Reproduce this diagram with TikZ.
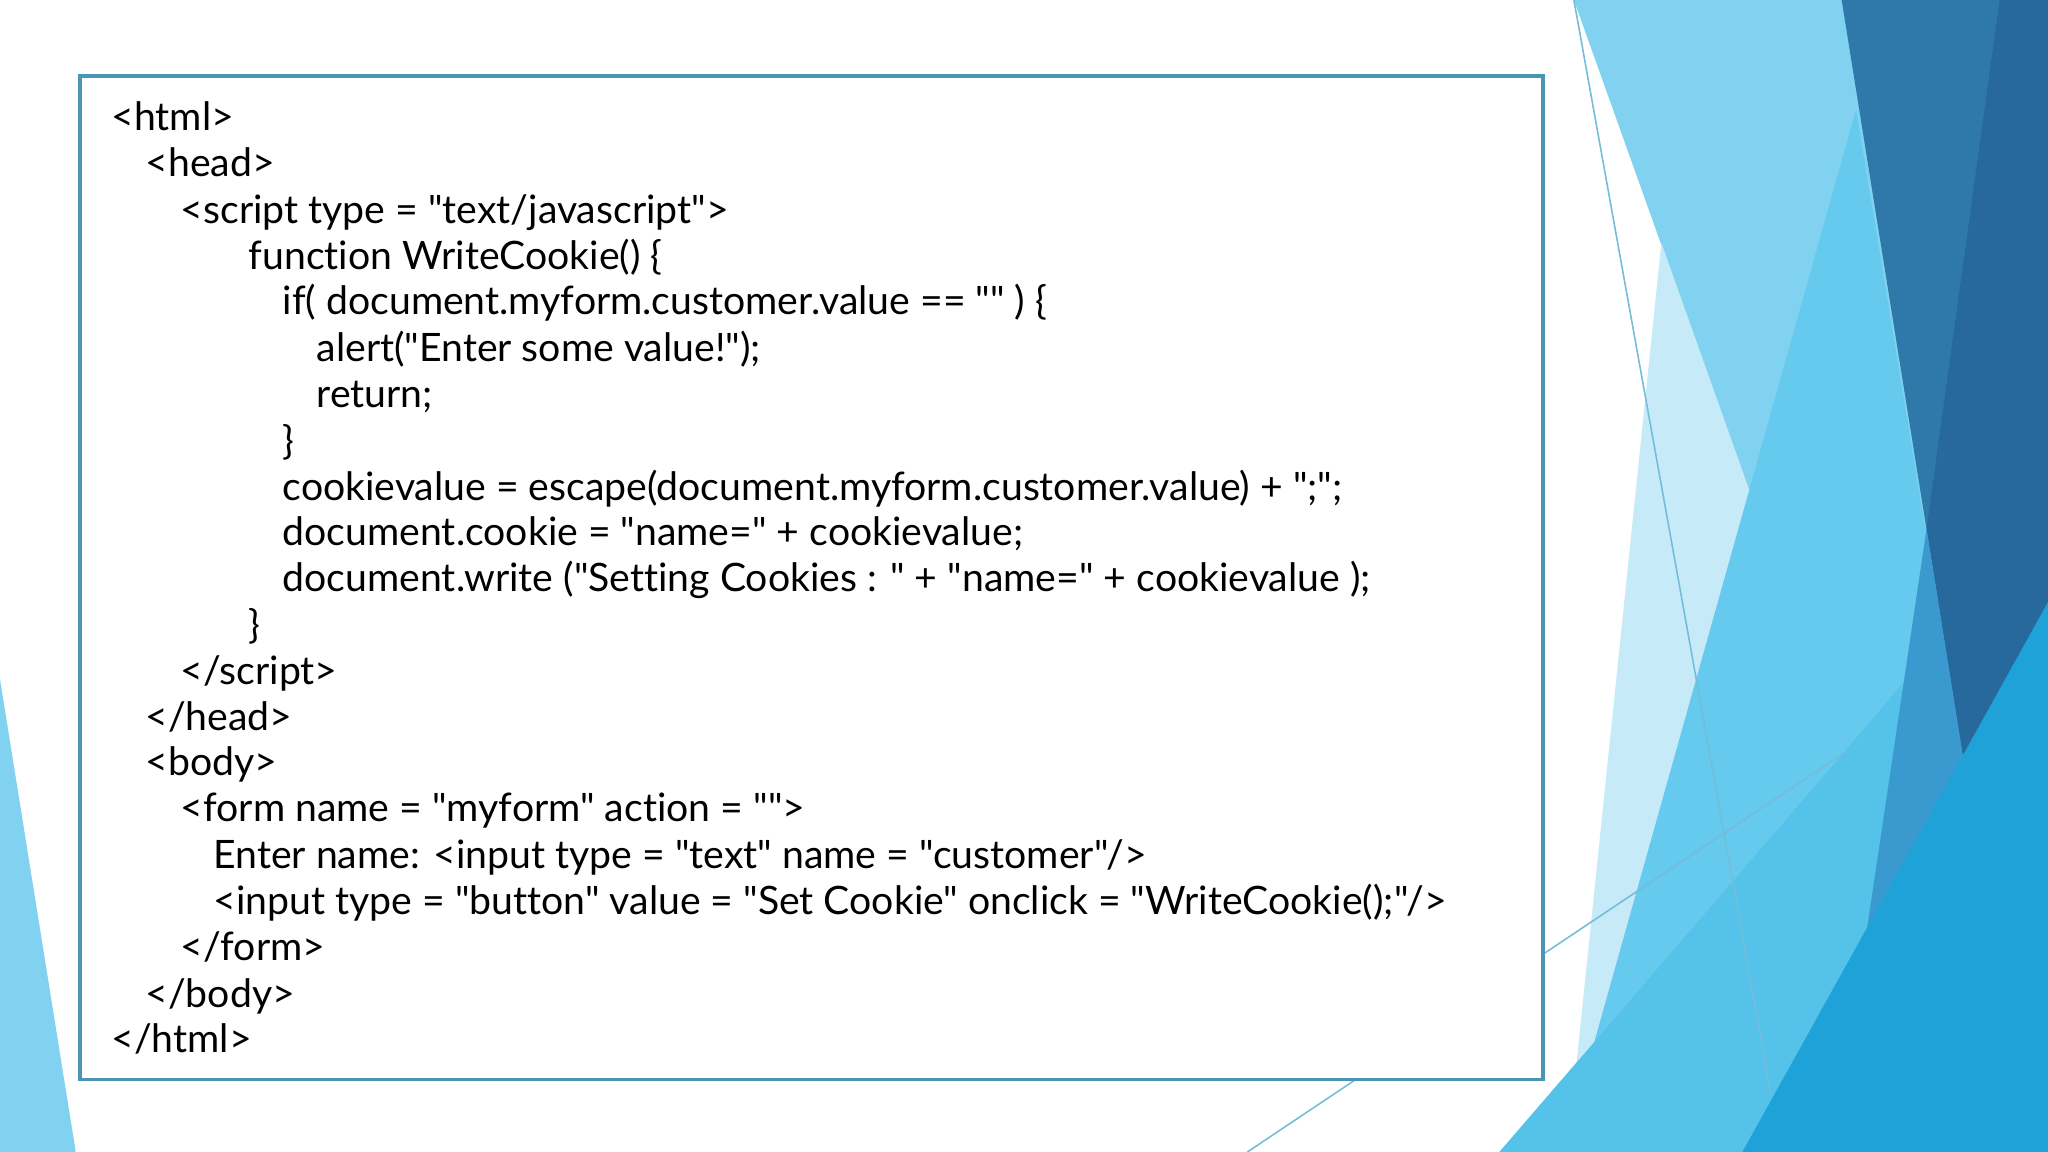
\documentclass[tikz,border=0pt]{standalone}
\usepackage{fontspec}
\setmainfont{Lato}[Ligatures={TeXOff,CommonOff}]
\begin{document}
\begin{tikzpicture}[x=0.5pt,y=-0.5pt,
  code/.style={anchor=base west,inner sep=0pt,font=\fontsize{15}{18}\selectfont}]
\useasboundingbox (0,0) rectangle (1568,882);
\fill[white] (0,0) rectangle (1568,882);
\definecolor{sky}{HTML}{80D2F0}
\definecolor{pale}{HTML}{C6EAF8}
\definecolor{med}{HTML}{66C9EE}
\definecolor{band}{HTML}{55C2EA}
\definecolor{dk}{HTML}{2E78AA}
\definecolor{dkk}{HTML}{27699D}
\definecolor{mix}{HTML}{3A9AD0}
\definecolor{br}{HTML}{1EA2D8}
\definecolor{frame}{HTML}{4A95B5}
\fill[sky] (1205,0)--(1568,0)--(1568,882)--(1148,882)--(1411,577)--cycle;
\fill[pale] (1272,186)--(1411,577)--(1160,882)--(1200,882)--cycle;
\fill[med] (1421,84)--(1503,580)--(1568,461)--(1568,882)--(1197,882)--cycle;
\fill[band] (1148,882)--(1411,577)--(1486,489)--(1568,445)--(1568,882)--cycle;
\fill[dk] (1410,0)--(1568,0)--(1568,461)--(1503,580)--cycle;
\fill[dkk] (1531,0)--(1568,0)--(1568,461)--(1503,580)--(1475,405)--cycle;
\fill[mix] (1475,405)--(1503,580)--(1429,714)--cycle;
\fill[br] (1568,461)--(1334,882)--(1568,882)--cycle;
\fill[sky] (0,520)--(58,882)--(0,882)--cycle;
\coordinate (l1a) at (1205,0); \coordinate (l1b) at (1356,838);
\coordinate (l2a) at (955,882); \coordinate (l2b) at (1411,577);
\draw[sky!90!black,line width=0.6pt] (l1a)--(l1b);
\draw[sky!90!black,line width=0.6pt] (l2a)--(l2b);
\node[draw=frame,line width=1.5pt,fill=white,inner sep=0pt,minimum width=560pt,minimum height=384pt,anchor=north west] (box) at (60,57) {};
\foreach \x/\y/\t [count=\i] in {
85/89/{<html>},
111/124/{<head>},
138/160/{<script type = "text/javascript">},
190/195/{function WriteCookie() \{},
216/230/{if( document.myform.customer.value == "" ) \{},
242/266/{alert("Enter some value!");},
242/301/{return;},
216/337/{\}},
216/372/{cookievalue = escape(document.myform.customer.value) + ";";},
216/407/{document.cookie = "name=" + cookievalue;},
216/442/{document.write ("Setting Cookies : " + "name=" + cookievalue );},
190/478/{\}},
138/513/{</script>},
111/548/{</head>},
111/583/{<body>},
138/618/{<form name = "myform" action = "">},
163/654/{Enter name: <input type = "text" name = "customer"/>},
163/689/{<input type = "button" value = "Set Cookie" onclick = "WriteCookie();"/>},
138/724/{</form>},
111/760/{</body>},
85/795/{</html>}}
  \node[code] (t\i) at (\x,\y+11) {\t};
\end{tikzpicture}
\end{document}
